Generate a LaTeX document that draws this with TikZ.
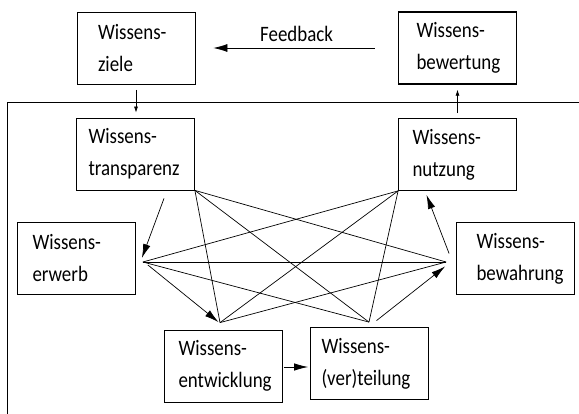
\documentclass[tikz,border=0pt]{standalone}
\usepackage{fontspec}
\setmainfont[FakeStretch=0.86]{Carlito}
\usetikzlibrary{calc,arrows.meta}
\begin{document}
\begin{tikzpicture}[x=1pt,y=-1pt,
  box/.style={draw, line width=0.8pt, minimum width=118pt, minimum height=72pt,
    inner sep=0pt, align=left, text width=#1,
    font=\fontsize{22}{32}\selectfont},
  link/.style={line width=0.7pt},
  arr/.style={link, -{Latex[length=14pt,width=7.5pt]}},
  smallarr/.style={link, -{Latex[length=6pt,width=4pt]}},
  fbarr/.style={link, -{Latex[length=14pt,width=8pt]}}]
\useasboundingbox (0,0) rectangle (579,414);

% frame separating the feedback loop from the core processes
\draw[line width=0.8pt] (7,414) -- (7,102) -- (579,102);

% outer loop
\node[box=76pt] (Z)  at (136,48.5)  {Wissens-\\ziele};
\node[box=82pt, line width=1.3pt] (Bw) at (457.5,48) {Wissens-\\bewertung};

% core processes
\node[box=94pt] (T)   at (135.5,154)  {Wissens-\\transparenz};
\node[box=90pt] (N)   at (457.5,154.5) {Wissens-\\nutzung};
\node[box=88pt] (E)   at (76.5,258.5)  {Wissens-\\erwerb};
\node[box=78pt] (B)   at (515.5,258.5) {Wissens-\\bewahrung};
\node[box=90pt] (Ent) at (223.5,366)   {Wissens-\\entwicklung};
\node[box=96pt] (Ver) at (369.5,363.5) {Wissens-\\(ver)teilung};

% feedback and hand-over arrows
\draw[fbarr, shorten <=23pt, shorten >=18pt] (Bw.west) -- (Z.east |- Bw.west)
  node[midway, above=3pt, font=\fontsize{22}{26}\selectfont] (fb) {Feedback};
\draw[smallarr, shorten <=5pt, shorten >=5pt] (Z.south) -- (Z.south |- T.north);
\draw[smallarr, shorten <=5pt, shorten >=5pt] (N.north -| Bw.south) -- (Bw.south);

% hubs where the cross links meet
\coordinate (pT) at (T.south east);
\coordinate (pN) at (N.south west);
\coordinate (pE) at ($(E.east)+(7,3.5)$);
\coordinate (pB) at ($(B.west)+(-10,3.5)$);
\coordinate (pD) at ($(Ent.north)+(-3.5,-7)$);
\coordinate (pV) at ($(Ver.north)+(-0.5,-5)$);

% cross links
\foreach \a/\b in {pT/pD, pT/pB, pT/pV, pE/pN, pE/pB, pE/pV, pD/pN, pD/pB, pV/pN}
  \draw[link] (\a) -- (\b);

% process cycle
\draw[arr] ($(T.south)+(28.5,8)$) -- ($(E.east)+(6,-0.5)$);
\draw[arr] ($(E.east)+(12,6.5)$) -- ($(Ent.north)+(-5,-7.5)$);
\draw[arr] ($(Ent.east)+(1,1)$) -- ($(Ver.west)+(-2,3.5)$);
\draw[arr] ($(Ver.north)+(7,-6.5)$) -- ($(B.west)+(-11,8)$);
\draw[arr] ($(B.west)+(-7,-5)$) -- ($(N.south)+(-31,4)$);
\end{tikzpicture}
\end{document}
